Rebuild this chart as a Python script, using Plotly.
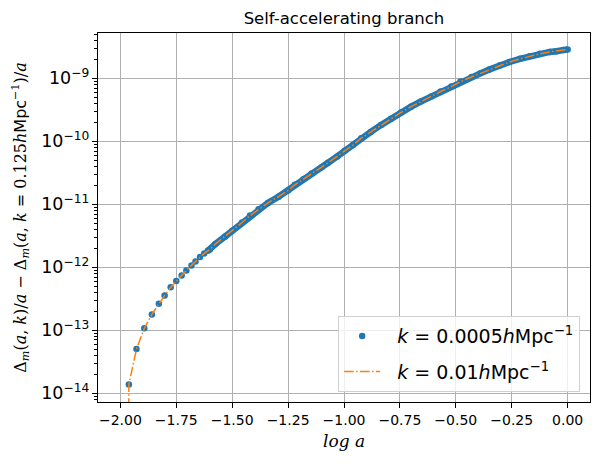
import plotly.graph_objects as go

# log10(a) positions of the plotted samples
log_a = [-1.962, -1.928, -1.893, -1.859, -1.828, -1.802, -1.775, -1.750, -1.726, -1.705,
         -1.682, -1.664, -1.644, -1.625, -1.609, -1.600, -1.575, -1.531, -1.500, -1.456,
         -1.420, -1.382, -1.340, -1.293, -1.250, -1.220, -1.180, -1.145, -1.100, -1.071,
         -1.030, -0.997, -0.960, -0.923, -0.880, -0.834, -0.790, -0.745, -0.700, -0.657,
         -0.610, -0.568, -0.520, -0.479, -0.430, -0.390, -0.350, -0.302, -0.260, -0.213,
         -0.170, -0.124, -0.080, -0.050, -0.020, 0.000]

# k = 0.0005 h/Mpc series
delta_k0005 = [1.38e-14, 5.01e-14, 1.07e-13, 1.78e-13, 2.63e-13, 3.55e-13, 4.79e-13, 6.03e-13, 7.41e-13, 8.91e-13,
               1.07e-12, 1.23e-12, 1.45e-12, 1.66e-12, 1.82e-12, 1.91e-12, 2.34e-12, 3.09e-12, 3.80e-12, 5.13e-12,
               6.61e-12, 8.32e-12, 1.05e-11, 1.32e-11, 1.66e-11, 2.04e-11, 2.51e-11, 3.09e-11, 3.89e-11, 4.57e-11,
               5.75e-11, 7.08e-11, 8.71e-11, 1.12e-10, 1.41e-10, 1.82e-10, 2.29e-10, 2.88e-10, 3.55e-10, 4.27e-10,
               5.13e-10, 6.17e-10, 7.41e-10, 8.91e-10, 1.05e-9, 1.20e-9, 1.38e-9, 1.62e-9, 1.82e-9, 2.04e-9,
               2.24e-9, 2.45e-9, 2.63e-9, 2.69e-9, 2.82e-9, 2.88e-9]

# k = 0.01 h/Mpc series (starts slightly earlier, from ~0)
log_a_k001 = [-1.964] + log_a
delta_k001 = [1.0e-16] + delta_k0005

# dense part of the blue sample (overlapping dots form a band)
dense_start = 14

x_ticks = [-2.0, -1.75, -1.5, -1.25, -1.0, -0.75, -0.5, -0.25, 0.0]

BLUE = "#1f77b4"
ORANGE = "#ff7f0e"

fig = go.Figure()

fig.add_trace(go.Scatter(
    x=log_a[dense_start:], y=delta_k0005[dense_start:], mode="lines",
    line=dict(color=BLUE, width=6.5), showlegend=False, hoverinfo="skip"))

fig.add_trace(go.Scatter(
    x=log_a, y=delta_k0005, mode="markers",
    marker=dict(color=BLUE, size=6.5),
    name="\u00a0\u00a0<i>k</i> = 0.0005<i>h</i>Mpc<sup>−1</sup>", legendgroup="a"))

fig.add_trace(go.Scatter(
    x=log_a_k001, y=delta_k001, mode="lines",
    line=dict(color=ORANGE, width=1.5, dash="9.6px,2.4px,1.5px,2.4px"),
    name="\u00a0\u00a0<i>k</i> = 0.01<i>h</i>Mpc<sup>−1</sup>", legendgroup="b"))

axis_common = dict(
    showgrid=True, gridcolor="#b0b0b0", gridwidth=0.8,
    ticks="outside", ticklen=5, tickwidth=0.8, tickcolor="black",
    showline=True, linecolor="black", linewidth=0.8, mirror=True,
    zeroline=False, tickfont=dict(family="DejaVu Sans", size=14, color="black"),
)

fig.update_xaxes(
    **axis_common, range=[-2.1, 0.1], tickvals=x_ticks, tickformat=".2f",
    title=dict(text="<i>log a</i>", font=dict(family="DejaVu Serif", size=17, color="black"), standoff=8),
)

ylabel = ("Δ<sub><i>m</i></sub>(<i>a</i>, <i>k</i>)/<i>a</i> − Δ<sub><i>m</i></sub>(<i>a</i>, <i>k</i> = 0.125<i>h</i>"
          "<span style='font-family:DejaVu Sans'>Mpc</span><sup>−1</sup>)/<i>a</i>")

fig.update_yaxes(
    **axis_common, type="log", range=[-14.14, -8.28], dtick=1, exponentformat="power",
    minor=dict(ticks="outside", ticklen=2.8, tickwidth=0.6, tickcolor="black", dtick="D1", showgrid=False),
    title=dict(text=ylabel, font=dict(family="DejaVu Serif", size=16, color="black"), standoff=10),
)

fig.update_layout(
    width=600, height=464,
    margin=dict(l=86, r=18, t=25, b=70),
    paper_bgcolor="white", plot_bgcolor="white",
    font=dict(family="DejaVu Sans", color="black"),
    title=dict(text="Self-accelerating branch", x=0.5, xref="paper", y=1 - 10 / 464,
               yref="container", xanchor="center", yanchor="middle",
               font=dict(family="DejaVu Sans", size=16.5, color="black")),
    legend=dict(x=0.98, y=0.027, xanchor="right", yanchor="bottom",
                bgcolor="rgba(255,255,255,0.8)", bordercolor="#d0d0d0", borderwidth=1,
                font=dict(family="DejaVu Sans", size=19, color="black"),
                tracegroupgap=8, itemwidth=36),
)

fig.write_html("out.html")
